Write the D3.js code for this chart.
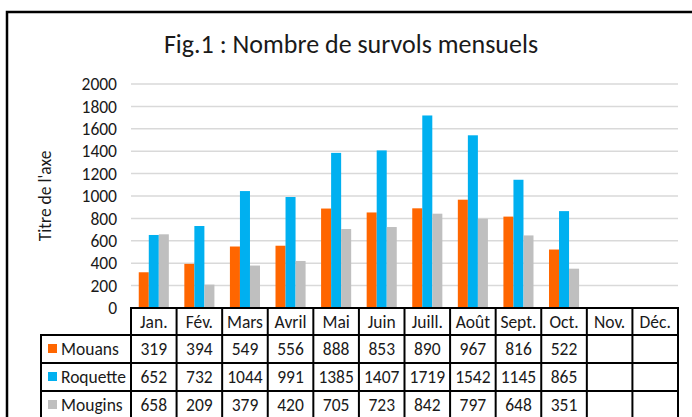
<!DOCTYPE html>
<html>
<head>
<meta charset="utf-8">
<script src="https://cdn.jsdelivr.net/npm/d3@7"></script>
<style>
  body { margin: 0; background: #fff; }
  svg text { font-family: Carlito, Calibri, Lato, sans-serif; fill: #1a1a1a; }
</style>
</head>
<body>
<div id="chart"></div>
<script>
// data
const months = ["Jan.", "Fév.", "Mars", "Avril", "Mai", "Juin", "Juill.", "Août", "Sept.", "Oct.", "Nov.", "Déc."];
const seriesNames = ["Mouans", "Roquette", "Mougins"];
const mouans = [319, 394, 549, 556, 888, 853, 890, 967, 816, 522, null, null];
const roquette = [652, 732, 1044, 991, 1385, 1407, 1719, 1542, 1145, 865, null, null];
const mougins = [658, 209, 379, 420, 705, 723, 842, 797, 648, 351, null, null];
const seriesColors = ["#ff6600", "#00b0f0", "#bfbfbf"];
const yTicks = [0, 200, 400, 600, 800, 1000, 1200, 1400, 1600, 1800, 2000];

const width = 692, height = 417;
const fs = "17.5px";

// plot area
let plot = {left: 131, right: 678, top: 84, bottom: 308};
let rowH = 28, headH = 27, legendLeft = 41;

let svg = d3.select("#chart")
    .append("svg")
    .attr("width", width)
    .attr("height", height);

// outer frame of the chart object (runs off the picture on right and bottom)
svg.append("rect")
    .attr("x", 7).attr("y", 12)
    .attr("width", 720).attr("height", 440)
    .attr("fill", "none")
    .attr("stroke", "#000")
    .attr("stroke-width", 2.5);

svg.append("text")
    .attr("x", 351).attr("y", 53)
    .attr("text-anchor", "middle")
    .style("font-size", "26px")
    .text("Fig.1 : Nombre de survols mensuels");

let x = d3.scaleBand()
    .domain(months)
    .range([plot.left, plot.right]);

let colW = x.bandwidth();
let xs = d3.scaleBand()
    .domain(seriesNames)
    .range([colW * 0.17, colW * 0.83]);

let y = d3.scaleLinear()
    .domain([0, 2000])
    .range([plot.bottom, plot.top]);

// gridlines
svg.append("g")
    .selectAll("line")
    .data(yTicks.filter(d => d > 0))
    .join("line")
    .attr("x1", plot.left).attr("x2", plot.right)
    .attr("y1", d => y(d)).attr("y2", d => y(d))
    .attr("stroke", "#d9d9d9")
    .attr("stroke-width", 1.5);

// y axis labels
let yAxis = svg.append("g")
    .attr("transform", "translate(" + (plot.left - 14) + ",0)")
    .call(d3.axisLeft(y).tickValues(yTicks).tickSize(0).tickPadding(0).tickFormat(d3.format("d")));
yAxis.select(".domain").remove();
yAxis.selectAll("text")
    .style("font-size", fs)
    .style("font-family", "Carlito, Calibri, Lato, sans-serif")
    .attr("fill", "#1a1a1a");

svg.append("text")
    .attr("transform", "translate(51,196) rotate(-90)")
    .attr("text-anchor", "middle")
    .style("font-size", fs)
    .text("Titre de l'axe");

// bars
let allSeries = [mouans, roquette, mougins];
allSeries.forEach(function(vals, si) {
    svg.append("g")
        .selectAll("rect")
        .data(vals.map((v, i) => ({m: months[i], v: v})).filter(d => d.v != null))
        .join("rect")
        .attr("x", d => x(d.m) + xs(seriesNames[si]))
        .attr("width", xs.bandwidth())
        .attr("y", d => y(d.v))
        .attr("height", d => y(0) - y(d.v))
        .attr("fill", seriesColors[si]);
});

// data table
let table = svg.append("g");
let tTop = plot.bottom;
let rowsTop = tTop + headH;
let tBottom = rowsTop + rowH * 3;

function line(x1, y1, x2, y2) {
    table.append("line")
        .attr("x1", x1).attr("y1", y1).attr("x2", x2).attr("y2", y2)
        .attr("stroke", "#000")
        .attr("stroke-width", 2);
}

// horizontal lines
line(plot.left - 1, tTop, plot.right + 1, tTop);
line(legendLeft - 1, rowsTop, plot.right + 1, rowsTop);
line(legendLeft - 1, rowsTop + rowH, plot.right + 1, rowsTop + rowH);
line(legendLeft - 1, rowsTop + rowH * 2, plot.right + 1, rowsTop + rowH * 2);
line(legendLeft - 1, tBottom, plot.right + 1, tBottom);
// vertical lines
line(legendLeft, rowsTop, legendLeft, tBottom + 10);
months.forEach(function(m) {
    line(x(m), tTop, x(m), tBottom + 10);
});
line(plot.right, tTop, plot.right, tBottom + 10);

// header
table.selectAll(".head")
    .data(months)
    .join("text")
    .attr("class", "head")
    .attr("x", d => x(d) + colW / 2)
    .attr("y", tTop + headH / 2 + 6)
    .attr("text-anchor", "middle")
    .style("font-size", fs)
    .text(d => d);

allSeries.forEach(function(vals, si) {
    let ry = rowsTop + rowH * si;
    table.append("rect")
        .attr("x", 48).attr("y", ry + rowH / 2 - 5)
        .attr("width", 9).attr("height", 9)
        .attr("fill", seriesColors[si]);
    table.append("text")
        .attr("x", 61).attr("y", ry + rowH / 2 + 6)
        .style("font-size", fs)
        .text(seriesNames[si]);
    table.append("g")
        .selectAll("text")
        .data(vals.map((v, i) => ({m: months[i], v: v})).filter(d => d.v != null))
        .join("text")
        .attr("x", d => x(d.m) + colW / 2)
        .attr("y", ry + rowH / 2 + 6)
        .attr("text-anchor", "middle")
        .style("font-size", fs)
        .text(d => d.v);
});
</script>
</body>
</html>
